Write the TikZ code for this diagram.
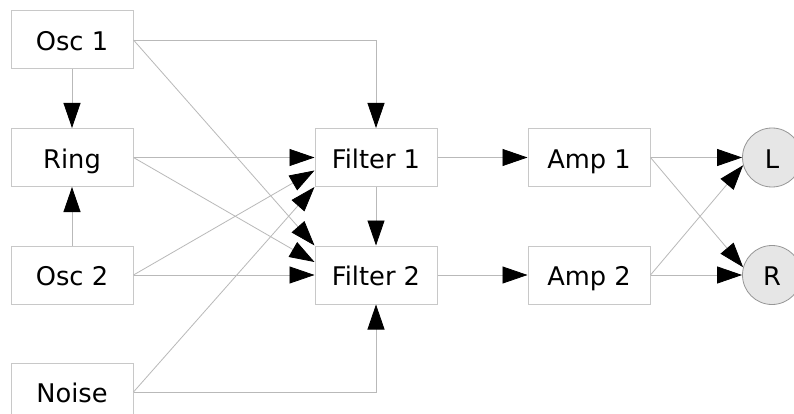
\documentclass[tikz,border=0pt]{standalone}
\usepackage{fontspec}
\setmainfont{DejaVu Sans}
\usetikzlibrary{arrows.meta,calc}
\definecolor{boxline}{RGB}{200,200,200}
\definecolor{edgeline}{RGB}{185,185,185}
\definecolor{outfill}{RGB}{230,230,230}
\definecolor{outline}{RGB}{150,150,150}
\begin{document}
\begin{tikzpicture}[x=1pt,y=-1pt,
  blk/.style={draw=boxline,line width=1pt,fill=white,minimum width=122pt,minimum height=58pt,inner sep=0pt,text height=21.8pt,text depth=0pt,font=\fontsize{25.7}{28}\selectfont},
  outp/.style={circle,draw=outline,line width=0.8pt,fill=outfill,minimum size=59pt,inner sep=0pt,text height=21.8pt,text depth=0pt,font=\fontsize{25.7}{28}\selectfont},
  conn/.style={draw=edgeline,line width=0.8pt,-{Triangle[length=25pt,width=17pt,fill=black,color=black]}}]
\useasboundingbox (0,0) rectangle (794,414);
\fill[white] (0,0) rectangle (794,414);
\node[blk] (o1) at (72,40) {Osc 1};
\node[blk] (ring) at (72,157.5) {Ring};
\node[blk] (o2) at (72,275) {Osc 2};
\node[blk] (noise) at (72,392) {Noise};
\node[blk] (f1) at (376,157.5) {Filter 1};
\node[blk] (f2) at (376,275) {Filter 2};
\node[blk] (a1) at (589,157.5) {Amp 1};
\node[blk] (a2) at (589,275) {Amp 2};
\node[outp] (L) at (772,157.5) {L};
\node[outp] (R) at (772,275) {R};
\draw[conn] (o1) -- (ring);
\draw[conn] (o2) -- (ring);
\draw[conn] (o1.east) -| (f1.north);
\draw[conn] (o1.east) -- (f2.north west);
\draw[conn] (ring.east) -- (f1.west);
\draw[conn] (ring.east) -- ([yshift=13pt]f2.west);
\draw[conn] (o2.east) -- ([yshift=-13pt]f1.west);
\draw[conn] (o2.east) -- (f2.west);
\draw[conn] (noise.east) -- (f1.south west);
\draw[conn] (noise.east) -| (f2.south);
\draw[conn] (f1) -- (f2);
\draw[conn] (f1) -- (a1);
\draw[conn] (f2) -- (a2);
\draw[conn] (a1.east) -- (L.west);
\draw[conn] (a1.east) -- (R.165);
\draw[conn] (a2.east) -- (L.195);
\draw[conn] (a2.east) -- (R.west);
\end{tikzpicture}
\end{document}
